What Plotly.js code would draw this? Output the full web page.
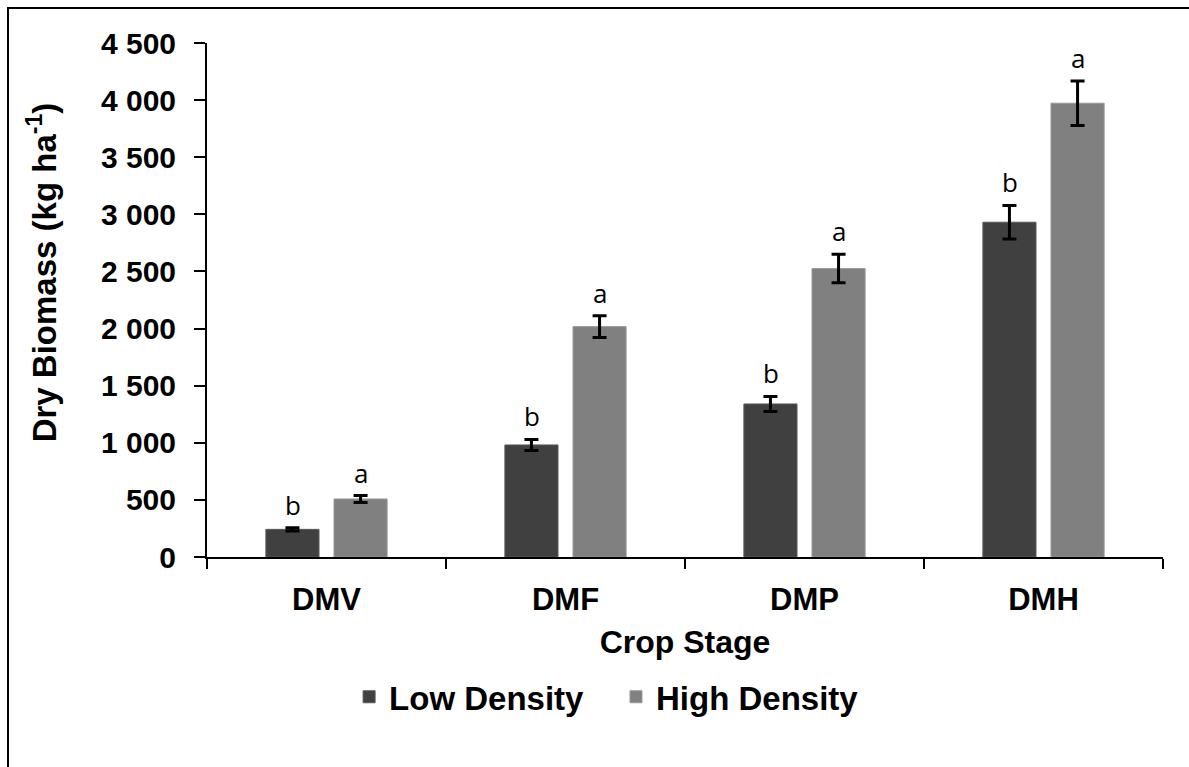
<!DOCTYPE html>
<html>
<head>
<meta charset="utf-8">
<script src="https://cdn.plot.ly/plotly-3.0.1.min.js"></script>
<style>
  html, body { margin: 0; padding: 0; background: #fff; }
  #wrap { position: relative; width: 1189px; height: 767px; overflow: hidden; }
  #chart { position: absolute; left: 0; top: 0; width: 1189px; height: 767px; }
  #frame { position: absolute; left: 7px; top: 7px; width: 1200px; height: 800px;
           border: 2px solid #000; box-sizing: border-box; pointer-events: none; }
</style>
</head>
<body>
<div id="wrap">
  <div id="chart"></div>
  <div id="frame"></div>
</div>
<script>
// Data
const stages = ['DMV', 'DMF', 'DMP', 'DMH'];
const lowDensity = [242, 981, 1340, 2931];
const lowErr = [15, 48, 66, 147];
const highDensity = [508, 2017, 2525, 3973];
const highErr = [30, 96, 125, 195];
const lowLetters = ['b', 'b', 'b', 'b'];
const highLetters = ['a', 'a', 'a', 'a'];
const yTicks = [0, 500, 1000, 1500, 2000, 2500, 3000, 3500, 4000, 4500];

const FAM = 'Liberation Sans, Arial, sans-serif';

const traces = [
  {
    type: 'bar', name: '<b>Low Density</b>\u00a0\u00a0\u00a0', x: stages, y: lowDensity,
    marker: { color: '#404040', line: { color: '#5a5a5a', width: 1 } },
    error_y: { type: 'data', array: lowErr, visible: true, color: '#000', thickness: 3, width: 7 }
  },
  {
    type: 'bar', name: '<b>High Density</b>', x: stages, y: highDensity,
    marker: { color: '#808080', line: { color: '#999999', width: 1 } },
    error_y: { type: 'data', array: highErr, visible: true, color: '#000', thickness: 3, width: 7 }
  }
];

const annotations = [];
stages.forEach((s, i) => {
  annotations.push({
    x: s, y: lowDensity[i] + lowErr[i], xref: 'x', yref: 'y', text: lowLetters[i],
    showarrow: false, xshift: -34, yshift: 3, yanchor: 'bottom',
    font: { family: 'Open Sans, Noto Sans, sans-serif', size: 26, color: '#000' }
  });
  annotations.push({
    x: s, y: highDensity[i] + highErr[i], xref: 'x', yref: 'y', text: highLetters[i],
    showarrow: false, xshift: 34, yshift: 3, yanchor: 'bottom',
    font: { family: 'Open Sans, Noto Sans, sans-serif', size: 26, color: '#000' }
  });
});
// y-axis title, placed as in the reference
annotations.push({
  xref: 'paper', yref: 'paper', x: -0.173, y: 0.553, xanchor: 'center', yanchor: 'middle',
  textangle: -90, showarrow: false,
  text: '<b>Dry Biomass (kg ha<sup>-1</sup>)</b>',
  font: { family: FAM, size: 33, color: '#000' }
});

const layout = {
  width: 1189, height: 767,
  margin: { l: 207, r: 26, t: 43, b: 210 },
  paper_bgcolor: '#fff', plot_bgcolor: '#fff',
  separators: '. ',
  barmode: 'group', bargap: 0.43, bargroupgap: 0.22,
  showlegend: true,
  legend: {
    orientation: 'h', x: 0.418, xanchor: 'center', y: -0.272, yanchor: 'middle',
    font: { family: FAM, size: 33, color: '#000' },
    itemwidth: 30, traceorder: 'normal'
  },
  xaxis: {
    type: 'category', tickson: 'boundaries', ticks: 'outside', ticklen: 10, tickwidth: 2, tickcolor: '#000',
    showline: true, linecolor: '#000', linewidth: 2, showgrid: false, zeroline: false,
    tickfont: { family: FAM, size: 31, color: '#000', weight: 'bold' }, ticklabelstandoff: 14,
    title: { text: '<b>Crop Stage</b>', font: { family: FAM, size: 32, color: '#000' }, standoff: 14 }
  },
  yaxis: {
    range: [0, 4500], tickvals: yTicks, separatethousands: true, tickformat: ',d',
    ticks: 'outside', ticklen: 11, tickwidth: 2, tickcolor: '#000',
    showline: true, linecolor: '#000', linewidth: 2, showgrid: false, zeroline: false,
    tickfont: { family: FAM, size: 30, color: '#000', weight: 'bold' }, ticklabelstandoff: 12
  },
  annotations: annotations
};

Plotly.newPlot('chart', traces, layout, { displayModeBar: false, staticPlot: true });
</script>
</body>
</html>
